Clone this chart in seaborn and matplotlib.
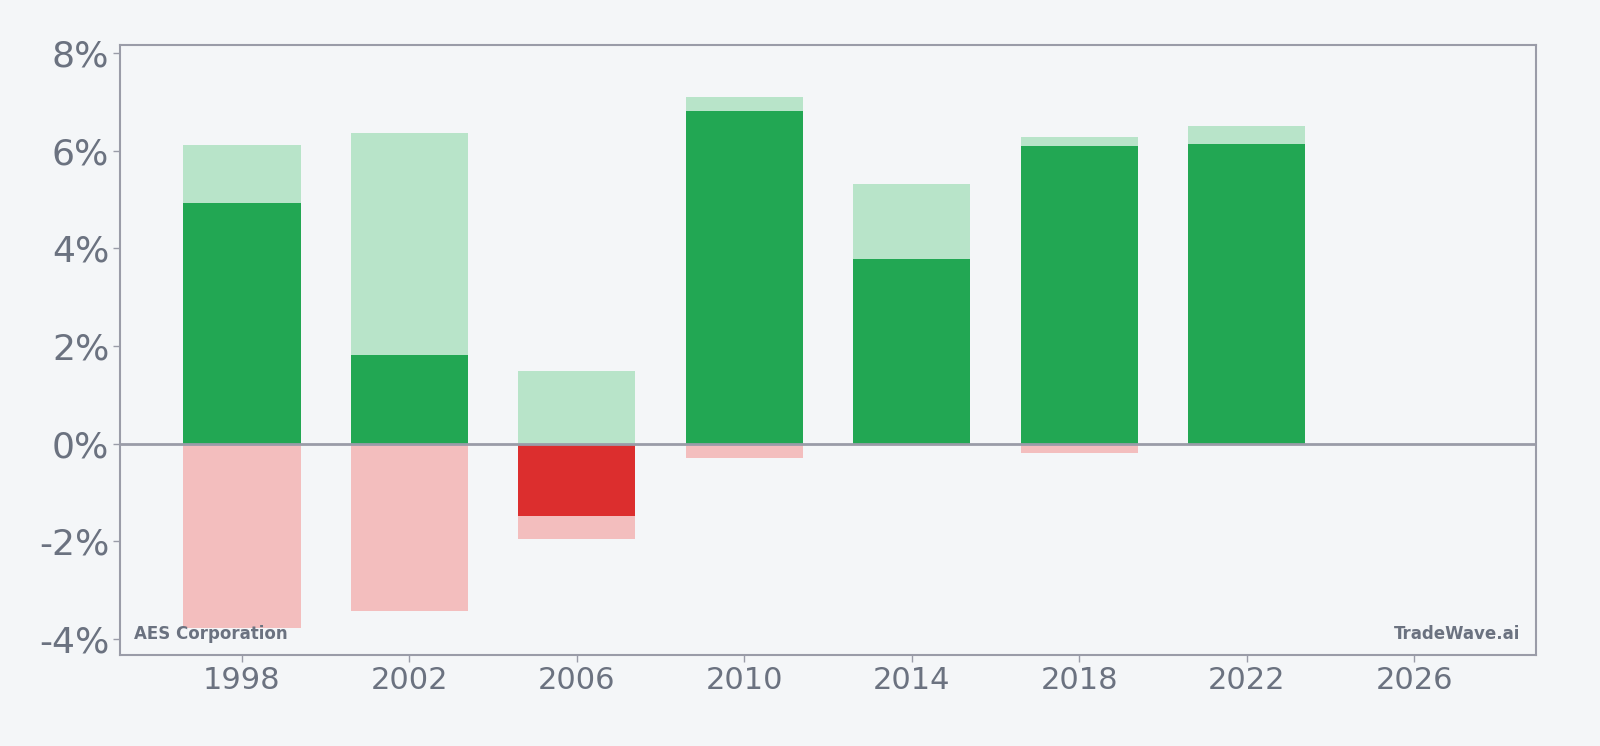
import pandas as pd
import seaborn as sns
import matplotlib.pyplot as plt

# values (percent)
years = [1998, 2002, 2006, 2010, 2014, 2018, 2022]
high = [6.12, 6.37, 1.48, 7.10, 5.32, 6.28, 6.51]
low = [-3.78, -3.42, -1.96, -0.29, 0.0, -0.19, 0.0]
net = [4.93, 1.82, -1.48, 6.81, 3.78, 6.10, 6.14]
xticks = [1998, 2002, 2006, 2010, 2014, 2018, 2022, 2026]
yticks = [-4, -2, 0, 2, 4, 6, 8]

bg = '#f4f6f8'
text_col = '#6b7280'
spine_col = '#9a9ca8'

df = pd.DataFrame({'year': years, 'high': high, 'low': low, 'net': net})
df['sign'] = ['pos' if v >= 0 else 'neg' for v in df['net']]

sns.set_style('white')
plt.rcParams['font.family'] = ['DejaVu Sans']

fig = plt.figure(figsize=(16, 7.46), dpi=100, facecolor=bg)
ax = fig.add_axes([0.0753, 0.122, 0.8845, 0.8178])
ax.set_facecolor(bg)

# light range bars, then net bar on top
sns.barplot(data=df, x='year', y='high', native_scale=True, width=0.7,
            color='#b8e4c9', saturation=1, errorbar=None, linewidth=0, ax=ax)
sns.barplot(data=df, x='year', y='low', native_scale=True, width=0.7,
            color='#f3bebe', saturation=1, errorbar=None, linewidth=0, ax=ax)
sns.barplot(data=df, x='year', y='net', hue='sign', dodge=False, native_scale=True, width=0.7,
            palette={'pos': '#22a753', 'neg': '#dc2e2e'}, saturation=1,
            errorbar=None, linewidth=0, legend=False, ax=ax)

ax.axhline(0, color=spine_col, lw=2, zorder=5)

ax.set_xlim(1995.1, 2028.9)
ax.set_ylim(-4.33, 8.17)
ax.set_xticks(xticks)
ax.set_xticklabels([str(x) for x in xticks])
ax.set_yticks(yticks)
ax.set_yticklabels([f'{v}%' for v in yticks])
ax.set_xlabel('')
ax.set_ylabel('')

ax.tick_params(axis='x', labelsize=22, colors=text_col, length=5, width=1, color=spine_col, pad=3)
ax.tick_params(axis='y', labelsize=26, colors=text_col, length=5, width=1, color=spine_col, pad=3)
ax.tick_params(left=True, bottom=True)
for s in ax.spines.values():
    s.set_color(spine_col)
    s.set_linewidth(1.5)
    s.set_visible(True)

ax.text(0.0094, 0.035, 'AES Corporation', transform=ax.transAxes, fontsize=12,
        fontweight='bold', color=text_col, ha='left', va='center')
ax.text(0.989, 0.035, 'TradeWave.ai', transform=ax.transAxes, fontsize=12,
        fontweight='bold', color=text_col, ha='right', va='center')

plt.savefig('out.png', dpi=100, facecolor=bg)
